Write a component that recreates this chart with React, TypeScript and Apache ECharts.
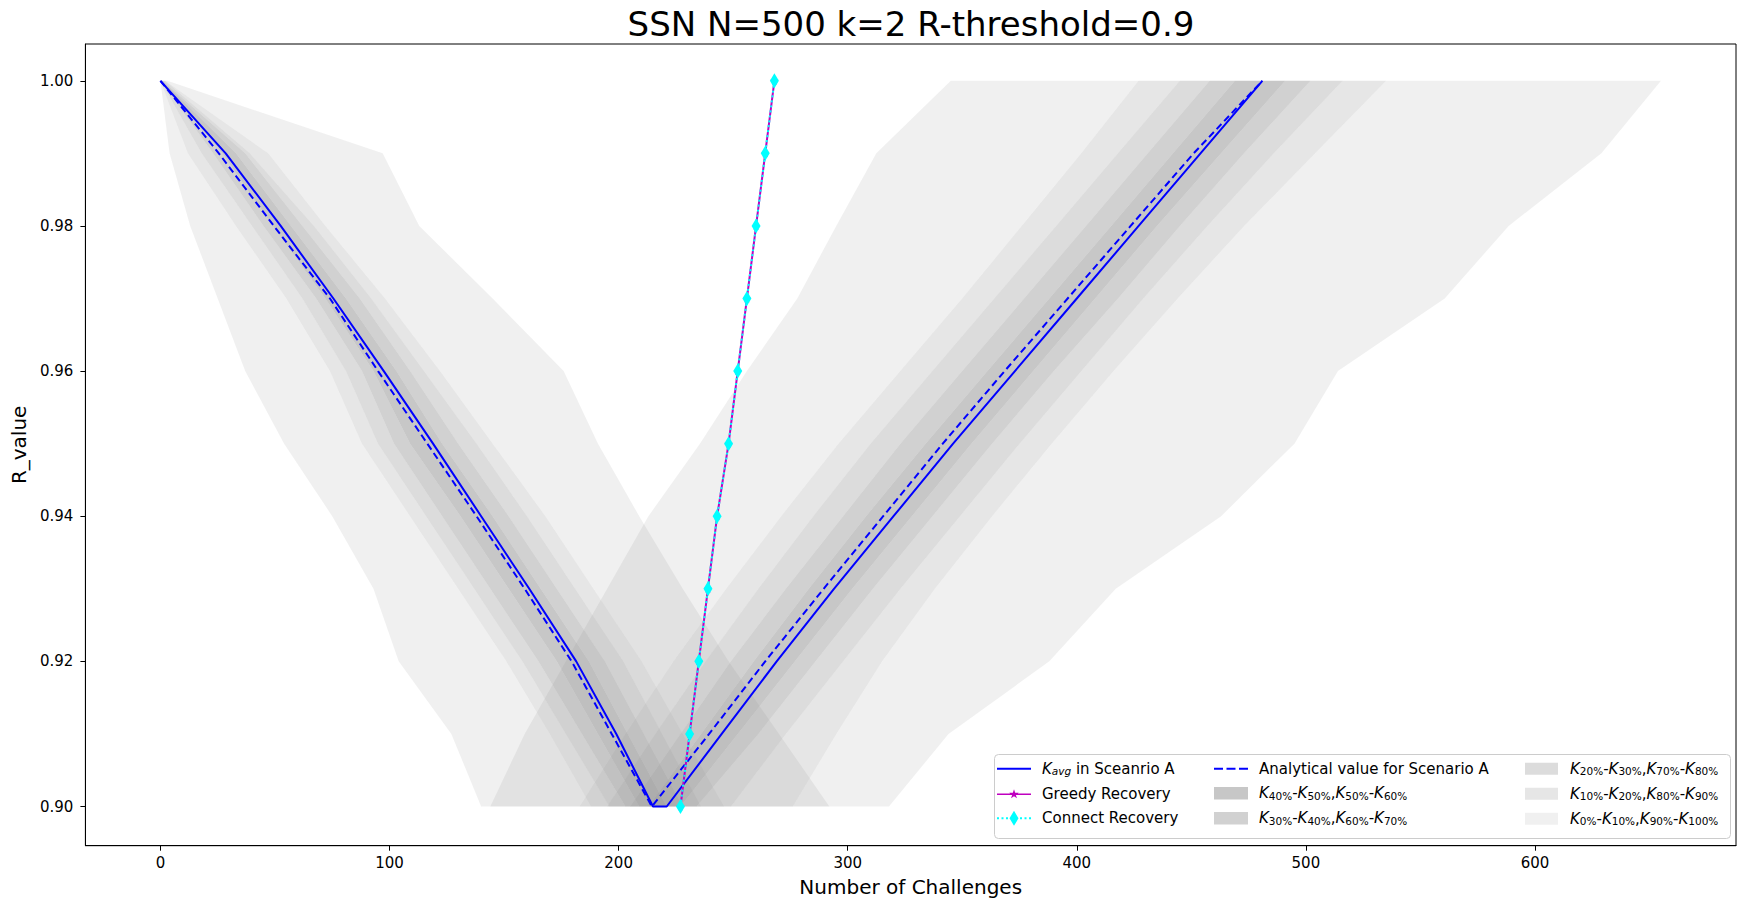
import React, { useEffect, useRef } from "react";
import * as echarts from "echarts";

// R levels (rows of the percentile tables), from 1.00 down to 0.90
const R_LEVELS = [1.0, 0.99, 0.98, 0.97, 0.96, 0.95, 0.94, 0.93, 0.92, 0.91, 0.9];

// Descending phase (number of challenges at each R level)
const AVG_DOWN = [0, 28.5, 52.5, 75.5, 97.5, 119, 140, 161, 181.5, 199, 215];
const ANA_DOWN = [0, 25.5, 49.5, 74, 95, 116.5, 138, 159, 179.5, 197, 214.5];
const DOWN_P0 = [0, 4, 13, 25, 37, 54, 75, 93, 104, 127, 140];
const DOWN_P10 = [0, 12, 33, 55, 74, 88, 109, 130, 151, 170, 188];
const DOWN_P20 = [0, 18, 40, 62, 81, 95, 116, 137, 158, 177, 196];
const DOWN_P30 = [0, 23, 45, 68, 88, 102, 123, 144, 165, 184, 203];
const DOWN_P40 = [0, 27, 49, 72, 93, 109, 131, 152, 173, 191, 209];
const DOWN_P60 = [1, 33, 57, 81, 103, 123, 145, 166, 187, 204, 221];
const DOWN_P70 = [1, 37, 62, 87, 109, 130, 152, 173, 194, 211, 228];
const DOWN_P80 = [2, 39, 67, 92, 115, 138, 160, 181, 202, 219, 236];
const DOWN_P90 = [2, 47, 72, 98, 122, 145, 168, 189, 210, 228, 246];
const DOWN_P100 = [3, 97, 113, 145, 176, 191, 209, 228, 248, 270, 292];

// Ascending phase (number of challenges at each R level)
const AVG_UP = [481, 454, 427, 400, 373, 346, 320, 294, 269, 245, 221];
const ANA_UP = [481, 451, 423.5, 396, 368.5, 341.5, 315.5, 289.5, 264, 239.5, 214.5];
const UP_P0 = [345, 312.5, 295, 278, 256, 235.5, 213, 195, 177, 159, 144];
const UP_P10 = [427, 402, 376, 350, 323, 296, 271, 247, 224, 203, 183];
const UP_P20 = [445, 418, 391, 364, 337, 310, 285, 261, 238, 216, 195];
const UP_P30 = [458, 431, 404, 377, 350, 323, 298, 273, 249, 227, 205];
const UP_P40 = [469, 442, 415, 388, 361, 334, 308, 283, 259, 236, 213];
const UP_P60 = [491, 463, 435, 408, 381, 354, 328, 302, 277, 252, 227];
const UP_P70 = [502, 473, 445, 418, 390, 363, 337, 311, 286, 261, 234];
const UP_P80 = [516, 486, 457, 429, 402, 375, 349, 323, 298, 273, 249];
const UP_P90 = [535, 504, 473, 444, 416, 389, 363, 338, 315, 295, 276];
const UP_P100 = [655, 629, 588.5, 560.6, 514, 495, 463, 417, 388, 344, 318];

// Recovery curves
const RECOVERY_R = [0.9, 0.91, 0.92, 0.93, 0.94, 0.95, 0.96, 0.97, 0.98, 0.99, 1.0];
const GREEDY_X = [227, 231, 235, 239, 243, 248, 252, 256, 260, 264, 268];
const CONNECT_X = [227, 231, 235, 239, 243, 248, 252, 256, 260, 264, 268];

const X_TICKS = [0, 100, 200, 300, 400, 500, 600];
const Y_TICKS = [0.9, 0.92, 0.94, 0.96, 0.98, 1.0];

const FONT = "'DejaVu Sans', Verdana, sans-serif";
const SHADE_ALPHA = [0.12, 0.2, 0.28, 0.36, 0.44];

const S_AVG = "Kavg in Sceanrio A";
const S_GREEDY = "Greedy Recovery";
const S_CONNECT = "Connect Recovery";
const S_ANA = "Analytical value for Scenario A";
const S_B4 = "K40%-K50%,K50%-K60%";
const S_B3 = "K30%-K40%,K60%-K70%";
const S_B2 = "K20%-K30%,K70%-K80%";
const S_B1 = "K10%-K20%,K80%-K90%";
const S_B0 = "K0%-K10%,K90%-K100%";

const BOUNDS_DOWN = [DOWN_P0, DOWN_P10, DOWN_P20, DOWN_P30, DOWN_P40, DOWN_P60, DOWN_P70, DOWN_P80, DOWN_P90, DOWN_P100];
const BOUNDS_UP = [UP_P0, UP_P10, UP_P20, UP_P30, UP_P40, UP_P60, UP_P70, UP_P80, UP_P90, UP_P100];

const bandLabel = (first: string, a: string, b: string, c: string, d: string) =>
  `{${first}|K}{s|${a}}{t|-}{k|K}{s|${b}}{t|,}{k|K}{s|${c}}{t|-}{k|K}{s|${d}}`;

const LABELS: Record<string, string> = {
  [S_AVG]: "{k0|K}{si|avg}{t| in Sceanrio A}",
  [S_GREEDY]: "{t0|Greedy Recovery}",
  [S_CONNECT]: "{t0|Connect Recovery}",
  [S_ANA]: "{t0|Analytical value for Scenario A}",
  [S_B4]: bandLabel("k0", "40%", "50%", "50%", "60%"),
  [S_B3]: bandLabel("k0", "30%", "40%", "60%", "70%"),
  [S_B2]: bandLabel("k7", "20%", "30%", "70%", "80%"),
  [S_B1]: bandLabel("k7", "10%", "20%", "80%", "90%"),
  [S_B0]: bandLabel("k7", "0%", "10%", "90%", "100%"),
};

const ICON_SOLID = "path://M0,0H34V2H0Z";
const ICON_DASH = "path://M0,0H9V2H0ZM12.5,0H21.5V2H12.5ZM25,0H34V2H25Z";
const ICON_STAR =
  "path://M0,7.7H34V9.3H0Z M17,3.5L18.18,6.88L21.76,6.95L18.9,9.12L19.94,12.55L17,10.5L14.06,12.55L15.1,9.12L12.24,6.95L15.82,6.88Z";
const ICON_DIAMOND =
  "path://M0,6.5h2v2h-2z M4.5,6.5h2v2h-2z M9,6.5h2v2h-2z M23,6.5h2v2h-2z M27.5,6.5h2v2h-2z M32,6.5h2v2h-2z M17,0L21.5,7.5L17,15L12.5,7.5Z";
const ICON_RECT = "path://M0,0H33V12H0Z";
const SYMBOL_STAR =
  "path://M17,3.5L18.18,6.88L21.76,6.95L18.9,9.12L19.94,12.55L17,10.5L14.06,12.55L15.1,9.12L12.24,6.95L15.82,6.88Z";

function bandSeries(name: string, shade: number) {
  const bandIdx = shade === 4 ? [4] : [shade, 8 - shade];
  const polys: { lo: number[]; hi: number[] }[] = [];
  for (const bounds of [BOUNDS_DOWN, BOUNDS_UP]) {
    for (const b of bandIdx) polys.push({ lo: bounds[b], hi: bounds[b + 1] });
  }
  const color = `rgba(128,128,128,${SHADE_ALPHA[shade]})`;
  return {
    type: "custom",
    name,
    coordinateSystem: "cartesian2d",
    silent: true,
    z: 1,
    itemStyle: { color },
    dimensions: ["x", "y", "idx"],
    encode: { x: 0, y: 1 },
    data: polys.map((p, i) => [p.lo[0], R_LEVELS[0], i]),
    renderItem: (_params: any, api: any) => {
      const p = polys[api.value(2)];
      const pts: number[][] = [];
      for (let j = 0; j < R_LEVELS.length; j++) pts.push(api.coord([p.lo[j], R_LEVELS[j]]));
      for (let j = R_LEVELS.length - 1; j >= 0; j--) pts.push(api.coord([p.hi[j], R_LEVELS[j]]));
      return { type: "polygon", shape: { points: pts }, style: { fill: color } };
    },
  };
}

function buildOption() {
  const avgData = [
    ...AVG_DOWN.map((x, i) => [x, R_LEVELS[i]]),
    ...AVG_UP.map((x, i) => [x, R_LEVELS[i]]).reverse(),
  ];
  const anaData = [
    ...ANA_DOWN.map((x, i) => [x, R_LEVELS[i]]),
    ...ANA_UP.map((x, i) => [x, R_LEVELS[i]]).reverse().slice(1),
  ];
  const greedyData = GREEDY_X.map((x, i) => [x, RECOVERY_R[i]]);
  const connectData = CONNECT_X.map((x, i) => [x, RECOVERY_R[i]]);

  const textBase = { fontFamily: FONT, color: "#000" };
  const rich = {
    t: { ...textBase, fontSize: 15, lineHeight: 16 },
    t0: { ...textBase, fontSize: 15, lineHeight: 16, padding: [0, 0, 0, 6] },
    k: { ...textBase, fontSize: 15, lineHeight: 16, fontStyle: "italic" },
    k0: { ...textBase, fontSize: 15, lineHeight: 16, fontStyle: "italic", padding: [0, 0, 0, 6] },
    k7: { ...textBase, fontSize: 15, lineHeight: 16, fontStyle: "italic", padding: [0, 0, 0, 7] },
    s: { ...textBase, fontSize: 10.5, lineHeight: 6, verticalAlign: "bottom" },
    si: { ...textBase, fontSize: 10.5, lineHeight: 6, verticalAlign: "bottom", fontStyle: "italic" },
  };
  const legendCommon = {
    orient: "vertical",
    padding: 0,
    itemWidth: 34,
    itemHeight: 16,
    itemGap: 9.5,
    top: 761.3,
    z: 6,
    selectedMode: false,
    symbolKeepAspect: true,
    itemStyle: { borderWidth: 0 },
    textStyle: { ...textBase, fontSize: 15, rich },
    formatter: (n: string) => LABELS[n] || n,
  };

  return {
    animation: false,
    backgroundColor: "#fff",
    title: {
      text: "SSN N=500 k=2 R-threshold=0.9",
      left: 911,
      top: 7,
      padding: 0,
      textAlign: "center",
      textStyle: { fontFamily: FONT, fontSize: 34, fontWeight: "normal", color: "#000" },
    },
    grid: {
      left: 85.4,
      top: 44,
      width: 1650.6,
      height: 801.7,
      show: true,
      borderColor: "#000",
      borderWidth: 1,
      backgroundColor: "transparent",
      containLabel: false,
      outerBoundsMode: "none",
    },
    xAxis: {
      type: "value",
      min: -32.75,
      max: 687.75,
      name: "Number of Challenges",
      nameLocation: "middle",
      nameGap: 31,
      nameTextStyle: { fontFamily: FONT, fontSize: 20, color: "#000" },
      axisLine: { show: true, onZero: false, lineStyle: { color: "#000", width: 1 } },
      axisTick: { show: true, length: 5, lineStyle: { color: "#000", width: 1 }, customValues: X_TICKS },
      axisLabel: {
        show: true,
        customValues: X_TICKS,
        margin: 10,
        fontFamily: FONT,
        fontSize: 15,
        color: "#000",
        formatter: (v: number) => String(Math.round(v)),
      },
      splitLine: { show: false },
    },
    yAxis: {
      type: "value",
      min: 0.8946,
      max: 1.00507,
      name: "R_value",
      nameLocation: "middle",
      nameGap: 47,
      nameRotate: 90,
      nameTextStyle: { fontFamily: FONT, fontSize: 20, color: "#000" },
      axisLine: { show: true, onZero: false, lineStyle: { color: "#000", width: 1 } },
      axisTick: { show: true, length: 5, lineStyle: { color: "#000", width: 1 }, customValues: Y_TICKS },
      axisLabel: {
        show: true,
        customValues: Y_TICKS,
        margin: 12,
        fontFamily: FONT,
        fontSize: 15,
        color: "#000",
        formatter: (v: number) => v.toFixed(2),
      },
      splitLine: { show: false },
    },
    legend: [
      {
        ...legendCommon,
        left: 997,
        data: [
          { name: S_AVG, icon: ICON_SOLID },
          { name: S_GREEDY, icon: ICON_STAR },
          { name: S_CONNECT, icon: ICON_DIAMOND },
        ],
      },
      {
        ...legendCommon,
        left: 1214,
        data: [
          { name: S_ANA, icon: ICON_DASH },
          { name: S_B4, icon: ICON_RECT },
          { name: S_B3, icon: ICON_RECT },
        ],
      },
      {
        ...legendCommon,
        left: 1525,
        itemWidth: 33,
        data: [
          { name: S_B2, icon: ICON_RECT },
          { name: S_B1, icon: ICON_RECT },
          { name: S_B0, icon: ICON_RECT },
        ],
      },
    ],
    graphic: [
      {
        type: "rect",
        z: 5,
        silent: true,
        shape: { x: 994.5, y: 754.5, width: 736, height: 84, r: 4 },
        style: { fill: "rgba(255,255,255,0.8)", stroke: "#cccccc", lineWidth: 1 },
      },
    ],
    series: [
      bandSeries(S_B0, 0),
      bandSeries(S_B1, 1),
      bandSeries(S_B2, 2),
      bandSeries(S_B3, 3),
      bandSeries(S_B4, 4),
      {
        type: "line",
        name: S_AVG,
        data: avgData,
        symbol: "none",
        showSymbol: false,
        silent: true,
        z: 2,
        itemStyle: { color: "#0000ff" },
        lineStyle: { color: "#0000ff", width: 2 },
      },
      {
        type: "line",
        name: S_ANA,
        data: anaData,
        symbol: "none",
        showSymbol: false,
        silent: true,
        z: 2,
        itemStyle: { color: "#0000ff" },
        lineStyle: { color: "#0000ff", width: 2, type: [7, 4] },
      },
      {
        type: "line",
        name: S_GREEDY,
        data: greedyData,
        symbol: SYMBOL_STAR,
        symbolSize: 8,
        showSymbol: true,
        silent: true,
        z: 2,
        itemStyle: { color: "#bf00bf", borderWidth: 0 },
        lineStyle: { color: "#bf00bf", width: 2 },
      },
      {
        type: "line",
        name: S_CONNECT,
        data: connectData,
        symbol: "diamond",
        symbolSize: [9, 15],
        showSymbol: true,
        silent: true,
        z: 2,
        itemStyle: { color: "#00ffff", borderWidth: 0 },
        lineStyle: { color: "#00ffff", width: 2, type: [2, 3] },
      },
    ],
  };
}

export default function App() {
  const ref = useRef<HTMLDivElement>(null);
  useEffect(() => {
    if (!ref.current) return;
    const chart = echarts.init(ref.current, null, { renderer: "svg" });
    chart.setOption(buildOption() as any);
    return () => chart.dispose();
  }, []);
  return (
    <div
      ref={ref}
      style={{ position: "absolute", left: 0, top: 0, width: 1737, height: 898, background: "#fff" }}
    />
  );
}
